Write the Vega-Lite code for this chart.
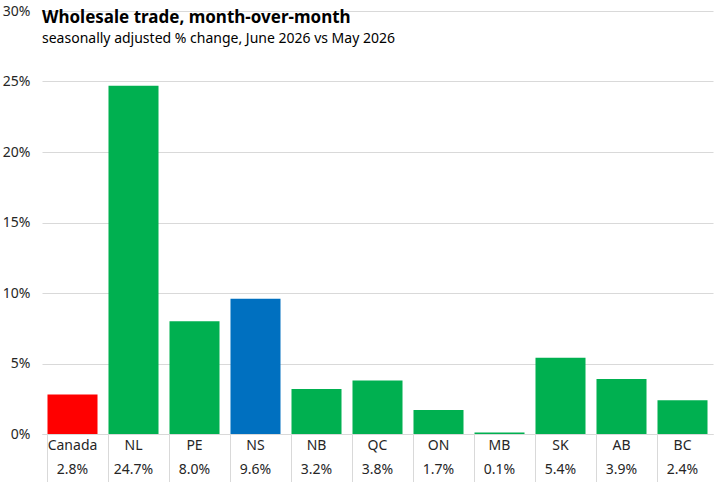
{
  "$schema": "https://vega.github.io/schema/vega-lite/v6.json",
  "autosize": "none",
  "padding": {"left": 42, "top": 11, "right": 1, "bottom": 48},
  "width": 671,
  "height": 423,
  "background": "white",
  "config": {
    "font": "Noto Sans",
    "view": {"stroke": null},
    "axis": {"labelFont": "Noto Sans", "labelColor": "#262626", "labelFontSize": 14, "titleFont": "Noto Sans"}
  },
  "title": {
    "text": "Wholesale trade, month-over-month",
    "subtitle": "\u00a0seasonally adjusted % change, June 2026 vs May 2026",
    "anchor": "start",
    "frame": "group",
    "offset": -43,
    "font": "Noto Sans",
    "fontSize": 17,
    "fontWeight": "bold",
    "color": "#000000",
    "subtitleFont": "Noto Sans",
    "subtitleFontSize": 14,
    "subtitleColor": "#000000",
    "subtitlePadding": 5
  },
  "data": {
    "values": [
      {"region": "Canada", "value": 2.8},
      {"region": "NL", "value": 24.7},
      {"region": "PE", "value": 8.0},
      {"region": "NS", "value": 9.6},
      {"region": "NB", "value": 3.2},
      {"region": "QC", "value": 3.8},
      {"region": "ON", "value": 1.7},
      {"region": "MB", "value": 0.1},
      {"region": "SK", "value": 5.4},
      {"region": "AB", "value": 3.9},
      {"region": "BC", "value": 2.4}
    ]
  },
  "transform": [
    {"calculate": "datum.region + '|' + format(datum.value, '.1f') + '%'", "as": "axis_label"}
  ],
  "mark": {"type": "bar"},
  "encoding": {
    "x": {
      "field": "axis_label",
      "type": "nominal",
      "sort": null,
      "scale": {"paddingInner": 0.18, "paddingOuter": 0.09},
      "axis": {
        "title": null,
        "labelAngle": 0,
        "labelExpr": "split(datum.label, '|')",
        "labelLineHeight": 24,
        "labelPadding": -44,
        "labelBaseline": "top",
        "bandPosition": 0,
        "ticks": true,
        "tickSize": 48,
        "tickColor": "#d9d9d9",
        "domainColor": "#d9d9d9",
        "grid": false
      }
    },
    "y": {
      "field": "value",
      "type": "quantitative",
      "scale": {"domain": [0, 30], "nice": false},
      "axis": {
        "title": null,
        "values": [0, 5, 10, 15, 20, 25, 30],
        "labelExpr": "datum.value + '%'",
        "labelPadding": 12,
        "ticks": false,
        "domain": false,
        "grid": true,
        "gridColor": "#d9d9d9"
      }
    },
    "color": {
      "field": "region",
      "type": "nominal",
      "legend": null,
      "scale": {
        "domain": ["Canada", "NL", "PE", "NS", "NB", "QC", "ON", "MB", "SK", "AB", "BC"],
        "range": ["#ff0000", "#00b050", "#00b050", "#0070c0", "#00b050", "#00b050", "#00b050", "#00b050", "#00b050", "#00b050", "#00b050"]
      }
    }
  }
}
